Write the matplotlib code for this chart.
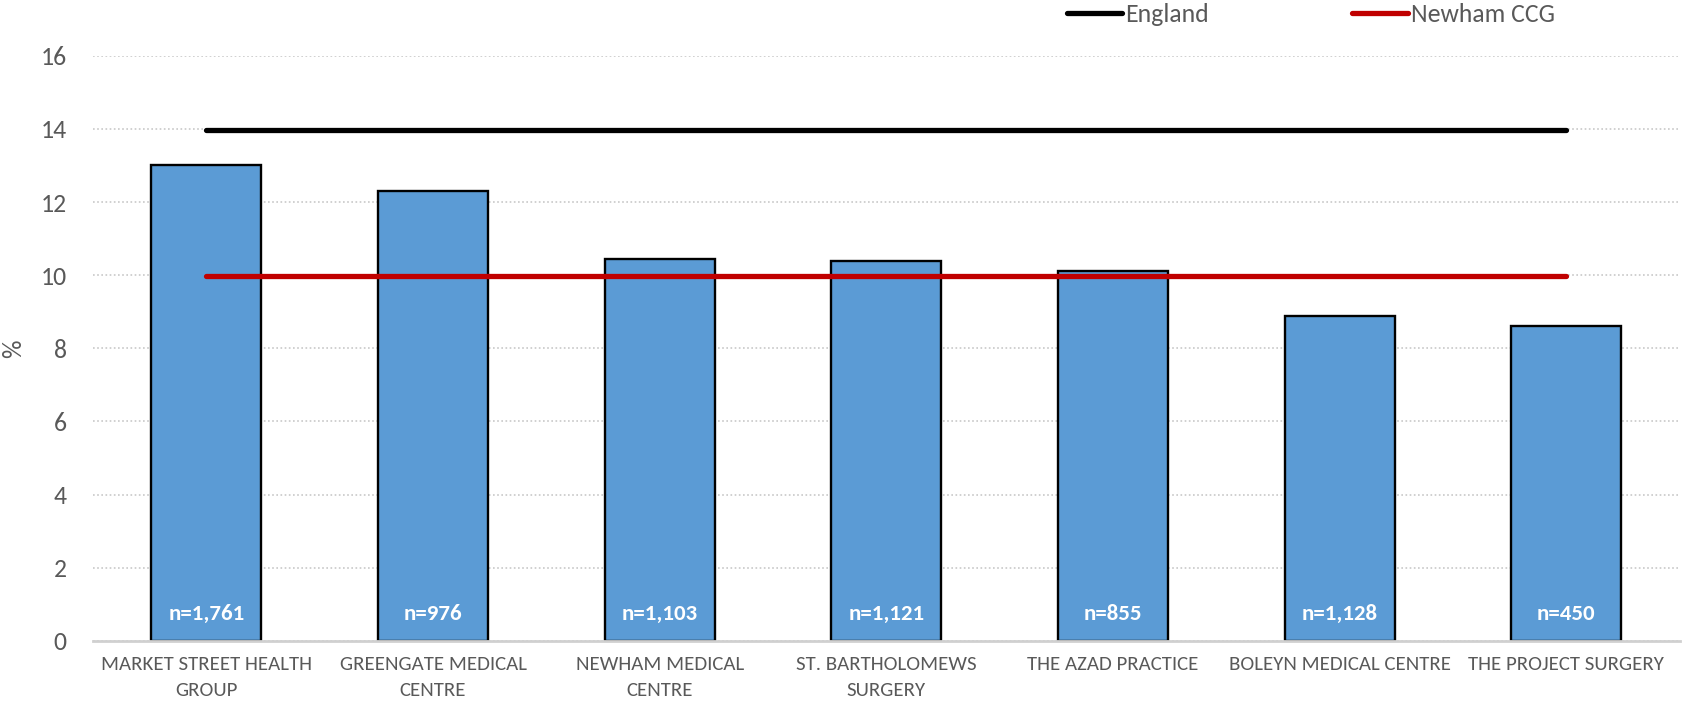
import matplotlib
matplotlib.use('Agg')
import matplotlib.pyplot as plt
import numpy as np

practices = ['MARKET STREET HEALTH\nGROUP', 'GREENGATE MEDICAL\nCENTRE', 'NEWHAM MEDICAL\nCENTRE',
             'ST. BARTHOLOMEWS\nSURGERY', 'THE AZAD PRACTICE', 'BOLEYN MEDICAL CENTRE',
             'THE PROJECT SURGERY']
pct = [13.0, 12.3, 10.45, 10.4, 10.1, 8.87, 8.62]
n_labels = ['n=1,761', 'n=976', 'n=1,103', 'n=1,121', 'n=855', 'n=1,128', 'n=450']
england = 13.97
newham_ccg = 9.98

plt.rcParams['font.family'] = ['Carlito', 'Lato', 'DejaVu Sans']
grey = '#595959'

fig = plt.figure(figsize=(16.83, 7.07), dpi=100)
ax = fig.add_axes([0.0553, 0.0937, 0.9427, 0.8274])

x = np.arange(len(practices))
ax.bar(x, pct, width=0.485, color='#5B9BD5', edgecolor='black', linewidth=1.7, zorder=2)

ax.plot([x[0], x[-1]], [england, england], color='black', lw=3.8,
        solid_capstyle='round', label='England', zorder=3)
ax.plot([x[0], x[-1]], [newham_ccg, newham_ccg], color='#C00000', lw=3.8,
        solid_capstyle='round', label='Newham CCG', zorder=3)

for xi, lab in zip(x, n_labels):
    ax.text(xi, 0.73, lab, ha='center', va='center', color='white',
            fontsize=16.5, fontweight='bold', zorder=4)

ax.set_xlim(-0.5, len(practices) - 0.5)
ax.set_ylim(0, 16)
ax.set_yticks(range(0, 17, 2))
ax.yaxis.grid(True, linestyle=(0, (1, 1.5)), color='#c8c8c8', linewidth=1.2, zorder=0)
ax.set_axisbelow(True)

ax.set_xticks(x)
ax.set_xticklabels(practices, fontsize=15, color=grey, linespacing=1.65)
ax.tick_params(axis='x', length=0, pad=11)
ax.tick_params(axis='y', length=0, pad=19, labelsize=18.5, labelcolor=grey)

for s in ['top', 'right', 'left']:
    ax.spines[s].set_visible(False)
ax.spines['bottom'].set_color('#d0d0d0')
ax.spines['bottom'].set_linewidth(2)

ax.set_ylabel('%', fontsize=18.5, color=grey)
ax.yaxis.set_label_coords(-0.043, 0.5)

fig.legend(loc='center left', bbox_to_anchor=(0.620, 0.980), ncol=2, frameon=False,
           fontsize=18.5, labelcolor=grey, handlelength=2.15, handletextpad=0.12,
           columnspacing=5.6)

fig.savefig('out.png', dpi=100)
